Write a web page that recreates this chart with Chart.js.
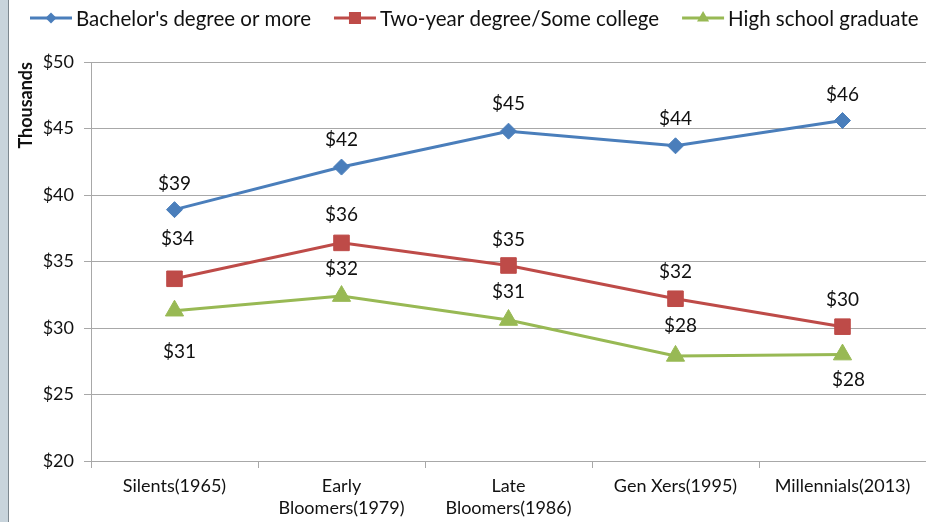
<!DOCTYPE html>
<html>
<head>
<meta charset="utf-8">
<script src="https://cdn.jsdelivr.net/npm/chart.js@4.4.1/dist/chart.umd.min.js"></script>
<style>
  html, body { margin: 0; padding: 0; background: #fff; }
  #wrap { position: relative; width: 926px; height: 522px; }
  #edge { position: absolute; left: 0; top: 0; width: 8px; height: 522px; background: #c8d4dc; border-right: 1px solid #7d8890; }
</style>
</head>
<body>
<div id="wrap">
  <canvas id="chart" width="926" height="522"></canvas>
  <div id="edge"></div>
</div>
<script>
const categories = ['Silents(1965)', ['Early', 'Bloomers(1979)'], ['Late', 'Bloomers(1986)'], 'Gen Xers(1995)', 'Millennials(2013)'];
const seriesNames = ["Bachelor's degree or more", 'Two-year degree/Some college', 'High school graduate'];
const bachelor = [38.9, 42.1, 44.8, 43.7, 45.6];
const twoYear = [33.7, 36.4, 34.7, 32.2, 30.1];
const highSchool = [31.3, 32.4, 30.6, 27.9, 28.0];

// where each value label sits relative to its point (px)
const bachelorLabelDx = [0, 0, 0, 0, 0];
const bachelorLabelDy = [-26, -27, -27, -27, -26];
const twoYearLabelDx = [3, 0, 0, 0, 0];
const twoYearLabelDy = [-40, -28, -26, -27, -27];
const highSchoolLabelDx = [5, 0, 0, 5, 6];
const highSchoolLabelDy = [41, -27, -28, -30, 25];

const FONT = 'Lato';
const textColor = '#111';
const gridColor = '#a8a8a8';

const valueLabels = {
  id: 'valueLabels',
  afterDatasetsDraw(chart) {
    const ctx = chart.ctx;
    ctx.save();
    ctx.font = '19px ' + FONT;
    ctx.fillStyle = textColor;
    ctx.textAlign = 'center';
    ctx.textBaseline = 'middle';
    chart.data.datasets.forEach((ds, di) => {
      chart.getDatasetMeta(di).data.forEach((pt, i) => {
        ctx.fillText('$' + Math.round(ds.data[i]), pt.x + ds.labelDx[i], pt.y + ds.labelDy[i]);
      });
    });
    ctx.restore();
  }
};

// legend drawn as line + marker, like the spreadsheet one
const lineLegend = {
  id: 'lineLegend',
  afterDraw(chart) {
    const ctx = chart.ctx;
    const y = 18;
    let x = 30;
    ctx.save();
    ctx.font = '20.5px ' + FONT;
    ctx.textBaseline = 'middle';
    chart.data.datasets.forEach(ds => {
      ctx.strokeStyle = ds.borderColor;
      ctx.lineWidth = 3;
      ctx.beginPath();
      ctx.moveTo(x, y);
      ctx.lineTo(x + 42, y);
      ctx.stroke();
      ctx.fillStyle = ds.borderColor;
      Chart.helpers.drawPoint(ctx, { pointStyle: ds.pointStyle, radius: ds.legendRadius, rotation: 0, borderWidth: 0 }, x + 21, y);
      ctx.fillStyle = textColor;
      ctx.fillText(ds.label, x + 46, y + 1);
      x += 46 + ctx.measureText(ds.label).width + 23;
    });
    ctx.restore();
  }
};

new Chart(document.getElementById('chart'), {
  type: 'line',
  data: {
    labels: categories,
    datasets: [
      {
        label: seriesNames[0], data: bachelor,
        borderColor: '#4a7ebb', backgroundColor: '#4a7ebb',
        pointBackgroundColor: '#4a7ebb', pointBorderColor: '#4a7ebb',
        pointStyle: 'rectRot', pointRadius: 8, legendRadius: 5.5,
        labelDx: bachelorLabelDx, labelDy: bachelorLabelDy
      },
      {
        label: seriesNames[1], data: twoYear,
        borderColor: '#be4b48', backgroundColor: '#be4b48',
        pointBackgroundColor: '#be4b48', pointBorderColor: '#be4b48',
        pointStyle: 'rect', pointRadius: 11, legendRadius: 8.5,
        labelDx: twoYearLabelDx, labelDy: twoYearLabelDy
      },
      {
        label: seriesNames[2], data: highSchool,
        borderColor: '#98b954', backgroundColor: '#98b954',
        pointBackgroundColor: '#98b954', pointBorderColor: '#98b954',
        pointStyle: 'triangle', pointRadius: 10.5, legendRadius: 7,
        labelDx: highSchoolLabelDx, labelDy: highSchoolLabelDy
      }
    ]
  },
  options: {
    responsive: false,
    animation: false,
    layout: { autoPadding: false, padding: { top: 62, left: 0, right: 0, bottom: 0 } },
    elements: { line: { borderWidth: 3, tension: 0 }, point: { borderWidth: 1 } },
    plugins: { legend: { display: false }, tooltip: { enabled: false } },
    scales: {
      x: {
        offset: true,
        grid: { offset: true, drawOnChartArea: false, tickLength: 7, color: gridColor },
        border: { color: gridColor },
        ticks: { font: { family: FONT, size: 18, lineHeight: 1.22 }, color: textColor, padding: 7, maxRotation: 0, autoSkip: false },
        afterFit(scale) {
          scale.height = 61;
          scale.paddingLeft = 0;
          scale.paddingRight = 0;
        }
      },
      y: {
        min: 20, max: 50,
        grid: { color: gridColor, tickLength: 7 },
        border: { color: gridColor },
        ticks: { stepSize: 5, font: { family: FONT, size: 18 }, color: textColor, padding: 10, callback: v => '$' + v },
        title: { display: true, text: 'Thousands', align: 'end', color: textColor, font: { family: FONT, size: 18, weight: 'bold' }, padding: { top: 15, bottom: 0 } },
        afterFit(scale) { scale.width = 91; }
      }
    }
  },
  plugins: [valueLabels, lineLegend]
});
</script>
</body>
</html>
